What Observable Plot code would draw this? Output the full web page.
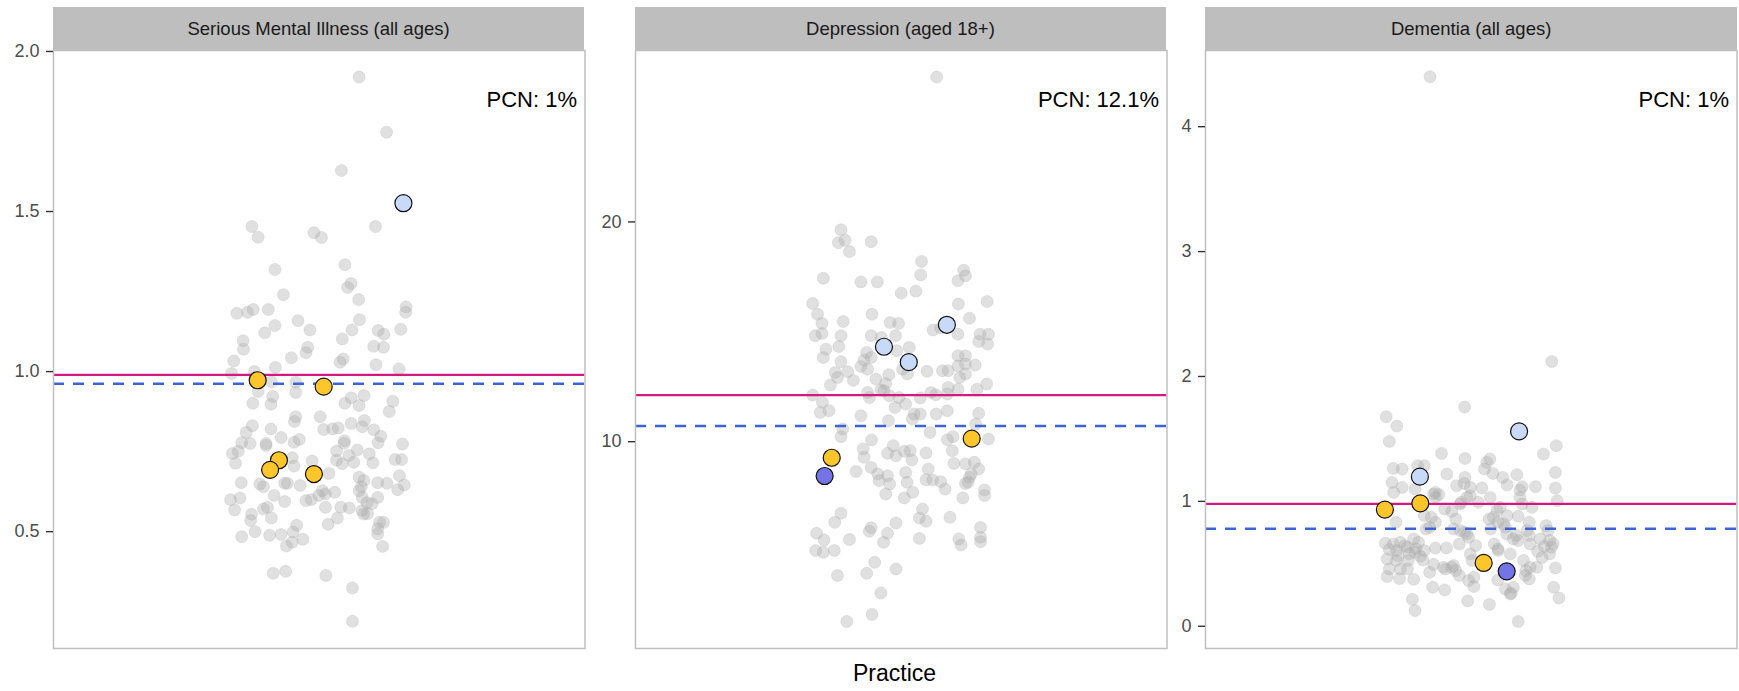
<!DOCTYPE html>
<html>
<head>
<meta charset="utf-8">
<script src="https://cdn.jsdelivr.net/npm/d3@7"></script>
<script src="https://cdn.jsdelivr.net/npm/@observablehq/plot@0.6"></script>
<style>
  html, body { margin: 0; padding: 0; background: #fff; }
  #wrap { position: relative; width: 1739px; height: 691px; background: #fff;
          font-family: "Liberation Sans", Arial, sans-serif; overflow: hidden; }
  .strip { position: absolute; top: 7px; height: 43px; background: #bebebe; color: #1a1a1a;
           font-size: 18.5px; display: flex; align-items: center; justify-content: center; }
  .panel { position: absolute; top: 49px; }
  #xlab { position: absolute; left: 0; width: 1789px; top: 662px; line-height: 23px; font-size: 23px;
          text-align: center; color: #000; }
</style>
</head>
<body>
<div id="wrap"></div>
<script>
// ---------- data ----------
const panelTitles = ["Serious Mental Illness (all ages)", "Depression (aged 18+)", "Dementia (all ages)"];
const pcnLabels = ["PCN: 1%", "PCN: 12.1%", "PCN: 1%"];
const pcnValues = [0.99, 12.12, 0.98];       // solid magenta line
const nationalValues = [0.962, 10.71, 0.78]; // dashed blue line

// practices: [jitter, prevalence %]
const smiPractices = [
[0.090,1.92],[0.152,1.748],[0.050,1.628],[-0.152,1.453],[-0.138,1.42],[-0.012,1.434],[0.005,1.419],[0.127,1.453],[0.058,1.334],[-0.10,1.319],
[0.072,1.275],[0.064,1.263],[-0.081,1.24],[0.089,1.225],[0.196,1.202],[0.195,1.185],[-0.186,1.182],[-0.162,1.185],[-0.149,1.194],[-0.115,1.194],
[-0.048,1.159],[-0.10,1.144],[-0.123,1.121],[-0.021,1.130],[0.091,1.162],[0.074,1.130],[0.133,1.128],[0.146,1.117],[0.184,1.132],[0.052,1.102],
[-0.172,1.096],[-0.026,1.076],[0.123,1.079],[0.145,1.076],
[-0.171,1.07],[-0.030,1.059],[-0.193,1.033],[-0.063,1.043],[0.054,1.039],[0.047,1.029],[-0.198,0.994],[-0.146,1.0],[-0.099,1.013],[-0.108,0.968],
[-0.138,0.938],[-0.053,0.967],[-0.053,0.935],[-0.150,0.901],[-0.105,0.922],[-0.109,0.898],[0.058,0.901],[0.072,0.918],[0.090,0.894],[0.101,0.925],
[0.128,1.021],[0.180,1.008],[0.166,0.907],[0.158,0.875],[0.097,0.828],[0.102,0.847],
[-0.053,0.859],[-0.056,0.844],[0.002,0.859],[-0.151,0.831],[-0.109,0.821],[-0.165,0.810],[-0.086,0.794],[-0.175,0.778],[-0.156,0.775],[-0.12,0.775],
[-0.12,0.769],[-0.057,0.779],[-0.045,0.788],[0.010,0.819],[0.030,0.821],[0.043,0.824],[0.072,0.838],[0.057,0.784],[0.056,0.776],[-0.196,0.744],
[-0.183,0.751],[-0.189,0.714],[0.039,0.752],[0.039,0.723],[0.086,0.755],[0.067,0.738],[0.078,0.717],[0.052,0.712],[-0.061,0.731],[-0.057,0.705],
[-0.016,0.721],[0.022,0.682],[-0.176,0.653],[-0.134,0.649],[-0.126,0.640],[-0.078,0.651],[-0.072,0.651],[-0.043,0.644],[0.007,0.628],[0.014,0.618],
[-0.001,0.613],[0.035,0.623],[0.090,0.670],[0.101,0.660],[0.090,0.628],[0.097,0.607],[-0.200,0.600],[-0.179,0.605],[-0.191,0.568],[-0.102,0.613],
[-0.078,0.594],[-0.030,0.597],[-0.018,0.600],[-0.117,0.576],[-0.126,0.571],[0.014,0.576],[0.049,0.576],[0.068,0.574],[0.097,0.566],[0.109,0.556],
[-0.153,0.554],[-0.155,0.535],[-0.108,0.543],[0.041,0.543],[0.020,0.523],[-0.051,0.520],[-0.145,0.500],[-0.175,0.484],[-0.112,0.489],[-0.086,0.491],
[-0.059,0.499],[-0.037,0.476],[-0.061,0.467],[-0.074,0.455],[-0.104,0.370],[-0.076,0.376],[0.015,0.363],[0.075,0.324],[0.075,0.220],
[0.188,0.774],[0.171,0.725],[0.186,0.725],[0.181,0.675],[0.192,0.646],[0.177,0.631],[0.153,0.651],[0.132,0.653],[0.121,0.715],[0.133,0.778],
[0.139,0.798],[0.113,0.743],[0.123,0.818],[0.132,0.607],[0.119,0.587],[0.136,0.529],[0.145,0.529],[0.132,0.509],[0.132,0.493],[0.143,0.454],
[0.095,0.640],[0.108,0.590],[0.100,0.555]
];
const depPractices = [
[0.080,26.59],[-0.136,19.64],[-0.142,19.05],[-0.127,19.17],[-0.117,18.65],[-0.068,19.10],[0.046,18.20],[0.044,17.59],[0.141,17.80],[0.128,17.32],
[0.145,17.55],[-0.176,17.44],[-0.091,17.27],[-0.054,17.27],[0,16.76],[0.033,16.85],[-0.2,16.29],[-0.189,15.80],[-0.179,15.38],[0.129,16.26],
[0.194,16.38],[-0.066,15.80],[-0.131,15.47],[-0.025,15.42],[-0.006,15.38],[0.154,15.62],[0.072,15.08],[0.089,15.17],[-0.194,14.82],[-0.179,14.92],
[-0.136,14.82],[-0.068,14.82],[-0.045,14.74],[-0.013,14.82],[0.128,14.89],[0.178,14.89],[0.197,14.89],[0.175,14.56],[0.195,14.44],
[-0.141,14.33],[0.018,14.29],[-0.170,14.21],[-0.176,13.83],[-0.078,14.06],[-0.084,13.71],[-0.068,13.83],[-0.091,13.42],[-0.076,13.30],[-0.136,13.64],
[-0.121,13.18],[-0.108,12.79],[-0.149,13.15],[-0.144,12.92],[-0.160,12.58],[-0.057,12.85],[-0.028,13.05],[-0.035,12.65],[-0.046,12.35],[-0.01,14.14],
[0.003,13.30],[0.014,13.08],[0.058,13.20],[0.093,13.23],[-0.200,12.12],[-0.178,11.79],[-0.183,11.33],[-0.163,11.41],[-0.076,12.24],[-0.072,12.01],
[-0.039,12.32],[-0.027,12.09],[-0.005,12.01],[0.010,11.71],[-0.014,11.56],[0.043,11.99],[0.067,12.24],[0.078,12.14],[0.029,11.26],[0.043,11.26],
[0.079,11.26],[-0.091,11.18],
[0.106,13.23],[0.128,13.45],[0.145,13.53],[0.167,13.49],[0.132,12.92],[0.145,13.08],[0.128,13.91],[0.145,13.91],[0.193,12.62],[0.171,12.39],
[0.106,12.47],[0.128,12.39],[0.104,12.17],[0.175,11.29],[0.168,10.80],[0.104,11.41],[0.065,10.42],[0.104,10.09],[0.117,10.23],[0.115,9.59],
[0.119,9.01],[0.197,10.12],[0.145,8.99],[0.165,9.06],[0.175,8.76],[0.158,8.53],[0.154,8.38],[0.145,8.10],[0.151,8.15],[0.188,7.80],
[0.188,7.55],[0.139,7.44],[0.110,6.56],[0.179,6.10],[0.179,5.65],[0.179,5.45],[0.130,5.57],[0.135,5.30],[0.041,5.60],
[-0.029,10.95],[0.025,11.03],[-0.132,10.58],[-0.136,10.23],[-0.067,10.08],[-0.086,9.67],[-0.084,9.29],[-0.018,9.82],[-0.031,9.47],[-0.012,9.36],
[0.007,9.56],[0.020,9.59],[0.024,9.17],[0.056,9.49],[-0.068,8.83],[-0.053,8.53],[-0.050,8.23],[-0.031,8.45],[-0.026,8.08],[-0.035,7.62],
[-0.102,8.64],[0.010,8.60],[0.013,8.15],[0.007,7.44],[0.026,7.70],[0.061,8.76],[0.056,8.27],[0.071,8.26],[0.089,8.18],[0.099,7.85],
[0.048,6.94],[0.041,6.53],[0.056,6.38],[-0.136,6.74],[-0.150,6.33],[-0.191,5.83],[-0.174,5.53],[-0.193,5.05],[-0.176,4.97],[-0.151,5.05],
[-0.117,5.55],[-0.068,6.08],[-0.072,5.92],[-0.031,5.83],[-0.040,5.42],[-0.012,6.30],[-0.060,4.51],[-0.078,4.01],[-0.012,4.21],[-0.144,3.91],
[-0.046,3.12],[-0.066,2.14],[-0.123,1.82]
];
const demPractices = [
[-0.093,4.40],[0.182,2.12],[-0.015,1.755],[-0.192,1.678],[-0.168,1.603],[-0.185,1.48],[0.192,1.446],[0.163,1.379],[-0.067,1.384],[-0.014,1.344],
[0.042,1.339],[0.035,1.312],[0.030,1.259],[0.190,1.232],[0.190,1.107],[0.194,1.006],[-0.176,1.264],[-0.156,1.259],[-0.121,1.286],[-0.106,1.286],
[-0.055,1.219],[0.049,1.224],[0.103,1.214],[0.071,1.192],[0.081,1.131],[-0.014,1.192],[-0.016,1.144],[-0.033,1.126],[-0.002,1.112],[0.024,1.107],
[-0.179,1.152],[-0.156,1.112],[-0.175,1.072],[0.115,1.118],[0.110,1.091],[0.145,1.118],[-0.085,1.059],[-0.073,1.054],[-0.010,1.032],[-0.023,0.992],
[0.016,0.992],[0.115,0.979],[0.106,0.880],[0.065,0.952],[0.081,0.886],[-0.060,0.939],[-0.044,0.920],[-0.035,0.859],[-0.106,0.886],[-0.090,0.872],
[-0.081,0.832],[-0.170,0.832],[0.040,0.859],[0.060,0.832],[0.044,0.779],[0.077,0.792],[0.131,0.832],[0.169,0.806],[0.173,0.766],[-0.102,0.779],
[-0.094,0.792],[-0.040,0.779],[-0.015,0.752],[-0.006,0.712],[0.131,0.726],[0.156,0.699],[0.177,0.686],[0.181,0.632],[0.177,0.579],[0.102,0.726],
[0.106,0.686],[0.052,0.659],[0.060,0.619],[-0.194,0.664],[-0.160,0.672],[-0.169,0.606],[-0.144,0.632],[-0.127,0.592],[-0.106,0.606],[-0.130,0.699],
[-0.119,0.672],[-0.081,0.627],[-0.056,0.627],[-0.027,0.659],[0.010,0.646],[-0.002,0.579],[-0.190,0.539],[-0.169,0.526],[-0.142,0.526],[-0.185,0.459],
[-0.160,0.459],[-0.109,0.531],[-0.144,0.459],[-0.190,0.398],[-0.162,0.382],[-0.130,0.376],[-0.085,0.494],[-0.094,0.432],[-0.087,0.312],[-0.060,0.291],
[-0.058,0.459],[-0.040,0.486],[-0.027,0.406],[-0.035,0.446],[-0.006,0.366],[0.006,0.318],[0.006,0.392],[0.002,0.526],[0.023,0.499],[0.060,0.371],
[0.077,0.299],[0.090,0.264],[0.123,0.446],[0.131,0.379],[0.148,0.472],[0.190,0.467],[0.186,0.312],[0.198,0.227],[-0.133,0.216],[-0.127,0.126],
[-0.008,0.203],[0.041,0.174],[0.106,0.038],
[-0.176,0.659],[-0.150,0.645],[-0.125,0.620],[-0.025,0.766],[-0.010,0.739],[-0.063,0.472],[-0.044,0.472],[0.050,0.872],[0.073,0.819],[0.080,0.739],
[0.095,0.699],[0.133,0.659],[0.126,0.766],[0.061,0.606],[0.088,0.579],[0.118,0.526],[0.133,0.472],[0.122,0.406],[0.095,0.312],[0.088,0.259],
[0.043,1.032],[0.058,0.926],[0.110,1.032],[0.137,0.952],[-0.081,1.032],[-0.081,1.072],[-0.025,0.979],[-0.002,1.046],[-0.127,1.099],
[-0.185,0.615],[-0.165,0.565],[-0.140,0.580],[-0.115,0.560],[0.165,0.640],[0.150,0.600],[0.185,0.660],[0.160,0.550]
];

// PCN member practices: [jitter, prevalence %, comparison group]
const smiMembers = [[0.190,1.526,"higher"],[-0.139,0.973,"lower"],[0.010,0.953,"lower"],[-0.091,0.723,"lower"],[-0.111,0.693,"lower"],[-0.012,0.680,"lower"]];
const depMembers = [[0.103,15.32,"higher"],[-0.039,14.32,"higher"],[0.017,13.62,"higher"],[-0.157,9.27,"lower"],[0.159,10.14,"lower"],[-0.173,8.44,"lowest"]];
const demMembers = [[0.108,1.56,"higher"],[-0.116,1.198,"higher"],[-0.195,0.934,"lower"],[-0.115,0.984,"lower"],[0.028,0.507,"lower"],[0.080,0.440,"lowest"]];

const groupNames = ["higher", "lower", "lowest"];
const groupColors = ["#c8daf8", "#ffc62b", "#7474e6"];

const yDomains = [[0.135, 2.003], [0.59, 27.8], [-0.178, 4.61]];
const yTicks = [[0.5, 1.0, 1.5, 2.0], [10, 20], [0, 1, 2, 3, 4]];
const yFormats = [".1f", "d", "d"];

// ---------- layout ----------
const panelLefts = [52.8, 634.7, 1205.4];
const panelWidth = 531.5;
const ML = 50;
const practices = [smiPractices, depPractices, demPractices];
const members = [smiMembers, depMembers, demMembers];
const wrap = document.getElementById("wrap");
const font = '"Liberation Sans", Arial, sans-serif';

for (let i = 0; i < 3; i++) {
  const strip = document.createElement("div");
  strip.className = "strip";
  strip.style.left = panelLefts[i] + "px";
  strip.style.width = panelWidth + "px";
  strip.textContent = panelTitles[i];
  wrap.appendChild(strip);

  const chart = Plot.plot({
    width: ML + panelWidth,
    height: 600,
    marginLeft: ML, marginRight: 0, marginTop: 1, marginBottom: 1,
    x: {domain: [-0.6, 0.6], axis: null},
    y: {domain: yDomains[i], axis: null},
    color: {domain: groupNames, range: groupColors},
    style: {fontFamily: font, background: "transparent", overflow: "visible", color: "#4d4d4d"},
    marks: [
      Plot.dot(practices[i], {x: d => d[0], y: d => d[1], r: 6, fill: "#a9a9a9", fillOpacity: 0.36,
        stroke: "#a9a9a9", strokeOpacity: 0.3, strokeWidth: 0.8}),
      Plot.ruleY([nationalValues[i]], {stroke: "#3c64d8", strokeWidth: 2.5, strokeDasharray: "11,9"}),
      Plot.ruleY([pcnValues[i]], {stroke: "#d6177f", strokeWidth: 2.2}),
      Plot.dot(members[i], {x: d => d[0], y: d => d[1], r: 8.5, fill: d => d[2], stroke: "#111", strokeWidth: 1.2}),
      Plot.text([pcnLabels[i]], {frameAnchor: "top-right", dx: -8, dy: 41, textAnchor: "end",
        fontSize: 22, fill: "#000"}),
      Plot.frame({stroke: "#bfbfbf", strokeWidth: 1.5}),
      Plot.axisY({ticks: yTicks[i], tickFormat: d3.format(yFormats[i]), tickSize: 7, tickPadding: 7,
        fontSize: 18, stroke: "#333", fill: "#4d4d4d", label: null, strokeWidth: 1.4})
    ]
  });
  const holder = document.createElement("div");
  holder.className = "panel";
  holder.style.left = (panelLefts[i] - ML) + "px";
  holder.appendChild(chart);
  wrap.appendChild(holder);
}

const xlab = document.createElement("div");
xlab.id = "xlab";
xlab.textContent = "Practice";
wrap.appendChild(xlab);
</script>
</body>
</html>
